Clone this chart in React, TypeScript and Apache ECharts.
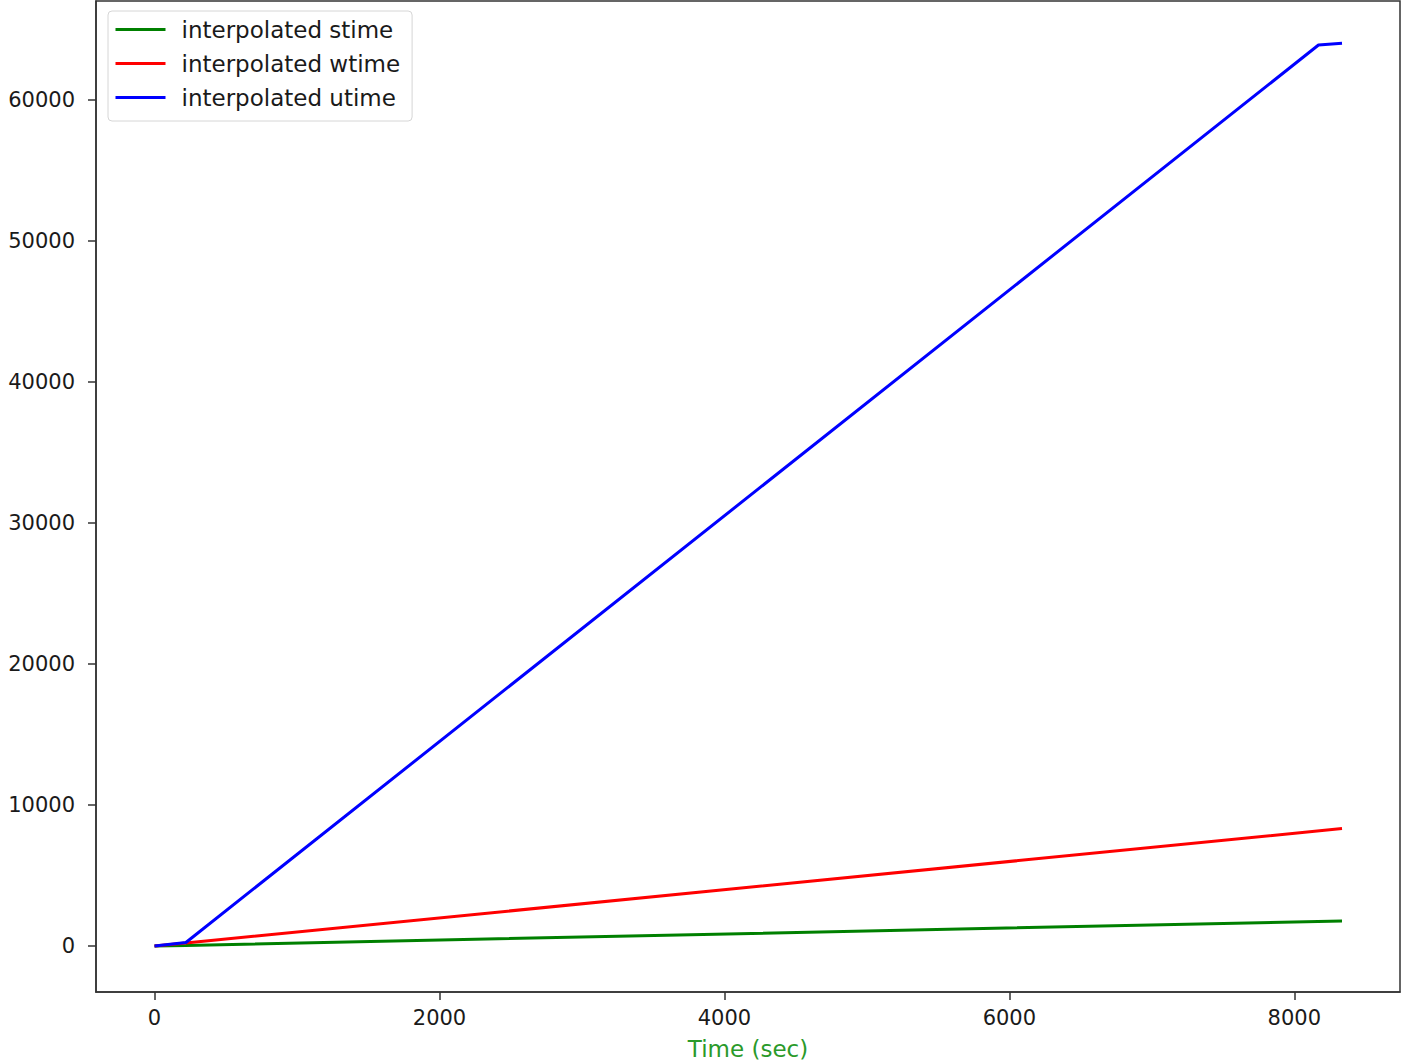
import React, { useEffect, useRef } from "react";
import * as echarts from "echarts";

// Time stamps (sec) and cumulative times for each interpolated series
const stimeX = [0, 220, 8335];
const stimeY = [0, 40, 1775];
const wtimeX = [0, 220, 8335];
const wtimeY = [0, 210, 8330];
const utimeX = [0, 220, 8170, 8335];
const utimeY = [0, 250, 63900, 64030];

const xTicks = [0, 2000, 4000, 6000, 8000];
const yTicks = [0, 10000, 20000, 30000, 40000, 50000, 60000];

const seriesNames = ["interpolated stime", "interpolated wtime", "interpolated utime"];
const seriesColors = ["#008000", "#ff0000", "#0000ff"];

const zip = (xs: number[], ys: number[]) => xs.map((x, i) => [x, ys[i]]);

export default function App() {
  const ref = useRef<HTMLDivElement>(null);

  useEffect(() => {
    document.body.style.margin = "0";
    if (!ref.current) return;
    const chart = echarts.init(ref.current, null, { renderer: "svg" });
    const font = "DejaVu Sans";
    const data = [zip(stimeX, stimeY), zip(wtimeX, wtimeY), zip(utimeX, utimeY)];
    const plain = (v: number) => String(v);

    chart.setOption({
      animation: false,
      backgroundColor: "#ffffff",
      textStyle: { fontFamily: font },
      grid: {
        left: 96,
        top: 1,
        right: 2,
        bottom: 70,
        outerBoundsMode: "none",
        containLabel: false,
        show: true,
        borderColor: "#333",
        borderWidth: 1.5,
        backgroundColor: "transparent",
      },
      legend: {
        left: 108,
        top: 11,
        orient: "vertical",
        data: seriesNames,
        itemWidth: 50,
        itemHeight: 20,
        itemGap: 11,
        padding: [7, 12, 12, 6],
        borderColor: "#d6d6d6",
        borderWidth: 1,
        borderRadius: 4,
        backgroundColor: "rgba(255,255,255,0.8)",
        itemStyle: { opacity: 0 },
        lineStyle: { width: 3 },
        textStyle: {
          fontFamily: font,
          fontSize: 23,
          color: "#1a1a1a",
          padding: [0, 0, 0, 11],
        },
      },
      xAxis: {
        type: "value",
        min: -411,
        max: 8742,
        splitLine: { show: false },
        axisLine: { show: true, onZero: false, lineStyle: { color: "#333", width: 1.5 } },
        axisTick: {
          show: true,
          length: 8,
          customValues: xTicks,
          lineStyle: { color: "#333", width: 1.5 },
        },
        axisLabel: {
          customValues: xTicks,
          formatter: plain,
          margin: 15,
          fontFamily: font,
          fontSize: 21,
          color: "#1a1a1a",
        },
        name: "Time (sec)",
        nameLocation: "middle",
        nameGap: 45,
        nameTextStyle: { fontFamily: font, fontSize: 23, color: "#2a9a2a" },
      },
      yAxis: {
        type: "value",
        min: -3264,
        max: 67024,
        splitLine: { show: false },
        axisLine: { show: true, onZero: false, lineStyle: { color: "#333", width: 1.5 } },
        axisTick: {
          show: true,
          length: 8,
          customValues: yTicks,
          lineStyle: { color: "#333", width: 1.5 },
        },
        axisLabel: {
          customValues: yTicks,
          formatter: plain,
          margin: 21,
          fontFamily: font,
          fontSize: 21,
          color: "#1a1a1a",
        },
      },
      series: seriesNames.map((name, i) => ({
        name,
        type: "line",
        data: data[i],
        symbol: "none",
        showSymbol: false,
        color: seriesColors[i],
        lineStyle: { color: seriesColors[i], width: 3 },
        z: 2 + i,
      })),
    });

    return () => chart.dispose();
  }, []);

  return <div ref={ref} style={{ width: 1402, height: 1062 }} />;
}
